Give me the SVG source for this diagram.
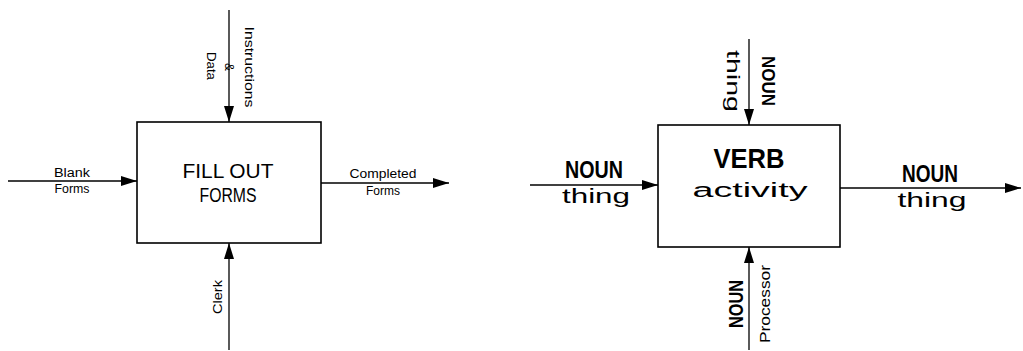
<svg xmlns="http://www.w3.org/2000/svg" width="1023" height="351" viewBox="0 0 1023 351">
<style>
.box{fill:#fff;stroke:#000;stroke-width:1.6}
.ln{fill:none;stroke:#000;stroke-width:1.3;marker-end:url(#ah)}
text{font-family:"Liberation Sans","DejaVu Sans",sans-serif;fill:#000}
.s{font-size:12px}
.m{font-size:20px}
.b{font-weight:bold}
.c{text-anchor:middle}
</style>
<defs>
<marker id="ah" markerUnits="userSpaceOnUse" markerWidth="17" markerHeight="11" refX="16" refY="5" orient="auto">
<path d="M0,0 L16,5 L0,10 z" fill="#000"/>
</marker>
</defs>
<rect width="1023" height="351" fill="#fff"/>
<g id="connectors">
<line class="ln" x1="229" y1="10" x2="229" y2="122"/>
<line class="ln" x1="229" y1="350" x2="229" y2="243"/>
<line class="ln" x1="8" y1="181" x2="137" y2="181"/>
<line class="ln" x1="321" y1="183" x2="449" y2="183"/>
<line class="ln" x1="749" y1="39" x2="749" y2="125"/>
<line class="ln" x1="749" y1="350" x2="749" y2="247"/>
<line class="ln" x1="530" y1="185" x2="658" y2="185"/>
<line class="ln" x1="840" y1="188" x2="1021" y2="188"/>
</g>
<g id="node-fill-out-forms">
<rect class="box" x="137" y="122" width="184" height="121"/>
<text class="m c" x="228" y="178" textLength="91" lengthAdjust="spacingAndGlyphs">FILL OUT</text>
<text class="m c" x="228" y="202" textLength="57" lengthAdjust="spacingAndGlyphs">FORMS</text>
</g>
<g id="labels-left">
<text class="s c" transform="translate(245,67) rotate(90)" textLength="81" lengthAdjust="spacingAndGlyphs">Instructions</text>
<text class="s c" transform="translate(225,67) rotate(90)">&amp;</text>
<text class="s c" transform="translate(207,66) rotate(90)" textLength="28" lengthAdjust="spacingAndGlyphs">Data</text>
<text class="s c" transform="translate(222,297) rotate(-90)" textLength="34" lengthAdjust="spacingAndGlyphs">Clerk</text>
<text class="s c" x="72" y="177" textLength="36" lengthAdjust="spacingAndGlyphs">Blank</text>
<text class="s c" x="72" y="193" textLength="35" lengthAdjust="spacingAndGlyphs">Forms</text>
<text class="s c" x="383" y="178" textLength="67" lengthAdjust="spacingAndGlyphs">Completed</text>
<text class="s c" x="383" y="195" textLength="34" lengthAdjust="spacingAndGlyphs">Forms</text>
</g>
<g id="node-verb-activity">
<rect class="box" x="658" y="125" width="182" height="122"/>
<text class="b c" style="font-size:28px" x="749" y="168" textLength="71" lengthAdjust="spacingAndGlyphs">VERB</text>
<text class="c" style="font-size:20px" x="750" y="197" textLength="115" lengthAdjust="spacingAndGlyphs">activity</text>
</g>
<g id="labels-right">
<text class="b c" style="font-size:19px" transform="translate(762,81) rotate(90)" textLength="50" lengthAdjust="spacingAndGlyphs">NOUN</text>
<text class="c" style="font-size:19px" transform="translate(727,81) rotate(90)" textLength="62" lengthAdjust="spacingAndGlyphs">thing</text>
<text class="b c" style="font-size:21px" transform="translate(743,304) rotate(-90)" textLength="48" lengthAdjust="spacingAndGlyphs">NOUN</text>
<text class="c" style="font-size:15px" transform="translate(770,304) rotate(-90)" textLength="78" lengthAdjust="spacingAndGlyphs">Processor</text>
<text class="b c" style="font-size:24px" x="594" y="178" textLength="58" lengthAdjust="spacingAndGlyphs">NOUN</text>
<text class="c" style="font-size:20px" x="596" y="203" textLength="68" lengthAdjust="spacingAndGlyphs">thing</text>
<text class="b c" style="font-size:23px" x="930" y="182" textLength="56" lengthAdjust="spacingAndGlyphs">NOUN</text>
<text class="c" style="font-size:20px" x="932" y="207" textLength="69" lengthAdjust="spacingAndGlyphs">thing</text>
</g>
</svg>
